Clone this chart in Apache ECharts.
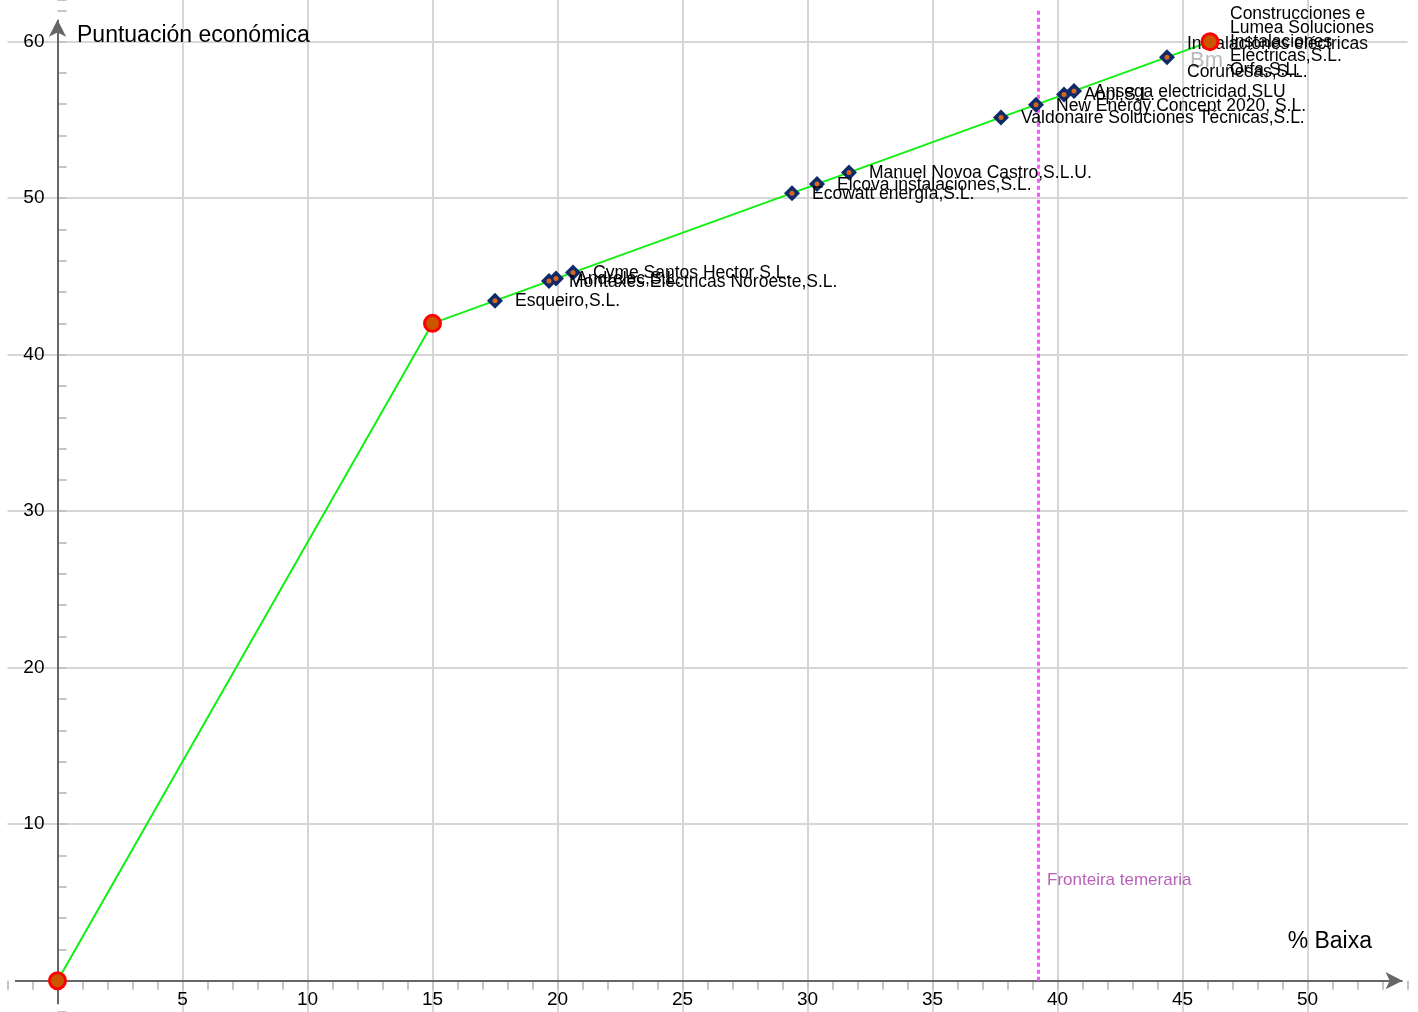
<!DOCTYPE html>
<html>
<head>
<meta charset="utf-8">
<title>Puntuación económica</title>
<script src="https://cdn.jsdelivr.net/npm/echarts@6/dist/echarts.min.js"></script>
<style>
html, body { margin: 0; padding: 0; background: #fff; }
#myChart { width: 1418px; height: 1012px; }
</style>
</head>
<body>
<div id="myChart"></div>
<script>
// curva de puntuación (tramos)
const curveX = [0, 15, 46.1];
const curveY = [0, 42, 60];

// ofertas
const companyNames = [
  'Esqueiro,S.L.',
  'Montaxes Eléctricas Noroeste,S.L.',
  'Andrelec,S.L.',
  'Cyme Santos Hector S.L.',
  'Ecowatt energía,S.L.',
  'Elcova instalaciones,S.L.',
  'Manuel Novoa Castro,S.L.U.',
  'Valdonaire Soluciones Técnicas,S.L.',
  'New Energy Concept 2020, S.L.',
  'Aopi,S.L.',
  'Ansega electricidad,SLU',
  'Instalaciones eléctricas\nCoruñesas,S.L.',
  'Construcciones e\nInstalaciones\nOrfa,S.L.',
  'Lumea Soluciones\nEléctricas,S.L.'
];
const companyX = [17.5, 19.66, 19.94, 20.62, 29.38, 30.38, 31.66, 37.74, 39.14, 40.26, 40.66, 44.38, 46.1, 46.1];
const companyY = [43.45, 44.7, 44.86, 45.25, 50.32, 50.9, 51.64, 55.16, 55.97, 56.62, 56.85, 59.0, 60, 60];

// fronteira temeraria
const frontierX = 39.22;
const frontierSpan = [0, 62.1];
const frontierLabel = 'Fronteira temeraria';
const frontierLabelY = 6.43;

// etiqueta Bm
const bmLabel = 'Bm';
const bmPoint = [46.1, 60];

// ejes
const xRange = [-2, 54];
const yRange = [-2, 62.66];
const xTickLabels = [5, 10, 15, 20, 25, 30, 35, 40, 45, 50];
const yTickLabels = [10, 20, 30, 40, 50, 60];
const xAxisSpan = [-1.7, 53.8];
const yAxisSpan = [-1.5, 61.4];
const xTitle = '% Baixa';
const yTitle = 'Puntuación económica';

const fontFam = '"Liberation Sans", Arial, sans-serif';
const W = 1418, H = 1012;
const gridLeft = 7.5, gridRight = 10.5;

function isIn(list, v) {
  return list.some(t => Math.abs(t - v) < 1e-6);
}
// colores de la rejilla, uno por cada tick
function gridColors(min, max, step, marked) {
  const out = [];
  let v = min;
  while (v <= max + 1e-9) {
    out.push(isIn(marked, v) ? '#d6d6d6' : 'rgba(0,0,0,0)');
    v = Math.round((v + step) * 1e6) / 1e6;
  }
  out.push('rgba(0,0,0,0)');
  return out;
}
// desplazar los ejes hasta el cero (onZero no mueve las etiquetas si no hay axisLine)
const xAxisOffset = -(0 - yRange[0]) * H / (yRange[1] - yRange[0]);
const yAxisOffset = -(0 - xRange[0]) * (W - gridLeft - gridRight) / (xRange[1] - xRange[0]);

const option = {
  animation: false,
  backgroundColor: '#fff',
  grid: { left: gridLeft, right: gridRight, top: 0, bottom: 0, containLabel: false, outerBoundsMode: 'none' },
  xAxis: {
    type: 'value',
    position: 'bottom',
    offset: xAxisOffset,
    min: xRange[0],
    max: xRange[1],
    interval: 1,
    axisLine: { show: false, onZero: false },
    axisTick: { show: true, inside: false, length: 9, lineStyle: { color: '#c4c4c4', width: 2 } },
    axisLabel: {
      show: true, color: '#000', fontSize: 19, fontFamily: fontFam, margin: 10,
      formatter: v => isIn(xTickLabels, v) ? String(v) : ''
    },
    splitLine: { show: true, lineStyle: { width: 2, color: gridColors(xRange[0], xRange[1], 1, xTickLabels) } }
  },
  yAxis: {
    type: 'value',
    position: 'left',
    offset: yAxisOffset,
    min: yRange[0],
    max: yRange[1],
    interval: 2,
    axisLine: { show: false, onZero: false },
    axisTick: { show: true, inside: true, length: 9, lineStyle: { color: '#c4c4c4', width: 2 } },
    axisLabel: {
      show: true, color: '#000', fontSize: 19, fontFamily: fontFam, margin: 13,
      formatter: v => isIn(yTickLabels, v) ? String(v) : ''
    },
    splitLine: { show: true, lineStyle: { width: 2, color: gridColors(yRange[0], yRange[1], 2, yTickLabels) } }
  },
  graphic: [
    { type: 'text', x: 77, y: 36, z: 100, silent: true,
      style: { text: yTitle, fontSize: 23, fontFamily: fontFam, fill: '#000', align: 'left', verticalAlign: 'middle' } },
    { type: 'text', x: 1372, y: 942, z: 100, silent: true,
      style: { text: xTitle, fontSize: 23, fontFamily: fontFam, fill: '#000', align: 'right', verticalAlign: 'middle' } }
  ],
  series: [
    {
      // ejes con flecha
      type: 'line',
      data: [],
      z: 3,
      markLine: {
        silent: true,
        symbol: ['none', 'arrow'],
        symbolSize: [13, 17],
        label: { show: false },
        lineStyle: { color: '#666', width: 2, type: 'solid' },
        data: [
          [{ coord: [xAxisSpan[0], 0] }, { coord: [xAxisSpan[1], 0] }],
          [{ coord: [0, yAxisSpan[0]] }, { coord: [0, yAxisSpan[1]] }]
        ]
      }
    },
    {
      // fronteira temeraria
      type: 'line',
      data: [],
      z: 3,
      markLine: {
        silent: true,
        symbol: ['none', 'none'],
        label: { show: false },
        lineStyle: { color: '#ff55ff', width: 3, type: [4, 3] },
        data: [[{ coord: [frontierX, frontierSpan[0]] }, { coord: [frontierX, frontierSpan[1]] }]]
      }
    },
    {
      type: 'line',
      data: curveX.map((x, i) => [x, curveY[i]]),
      showSymbol: false,
      silent: true,
      z: 4,
      lineStyle: { color: '#11f011', width: 2 }
    },
    {
      type: 'scatter',
      z: 5,
      symbol: 'diamond',
      symbolSize: 16,
      itemStyle: { color: '#0e2a68', opacity: 1 },
      label: {
        show: true, position: 'right', distance: 12, offset: [0, 1], formatter: '{b}',
        color: '#000', fontSize: 17.5, fontFamily: fontFam, lineHeight: 28
      },
      data: companyNames.map((n, i) => ({ name: n, value: [companyX[i], companyY[i]] }))
    },
    {
      type: 'scatter',
      z: 6,
      silent: true,
      symbol: 'circle',
      symbolSize: 5,
      itemStyle: { color: '#d8661a', opacity: 1 },
      data: companyX.map((x, i) => [x, companyY[i]])
    },
    {
      type: 'scatter',
      z: 7,
      silent: true,
      symbol: 'circle',
      symbolSize: 16,
      itemStyle: { color: '#cc5500', borderColor: '#ff0000', borderWidth: 3, opacity: 1 },
      data: curveX.map((x, i) => [x, curveY[i]])
    },
    {
      type: 'scatter',
      z: 4,
      silent: true,
      symbolSize: 0,
      data: [
        { name: bmLabel, value: bmPoint,
          label: { show: true, position: 'inside', align: 'left', offset: [-20, 19], formatter: '{b}',
                   color: '#a8a8a8', fontSize: 22, fontFamily: fontFam } },
        { name: frontierLabel, value: [frontierX, frontierLabelY],
          label: { show: true, position: 'right', distance: 9, formatter: '{b}',
                   color: '#a838a8', fontSize: 17, fontFamily: fontFam } }
      ]
    }
  ]
};

const myChart = echarts.init(document.getElementById('myChart'));
myChart.setOption(option);
</script>
</body>
</html>
